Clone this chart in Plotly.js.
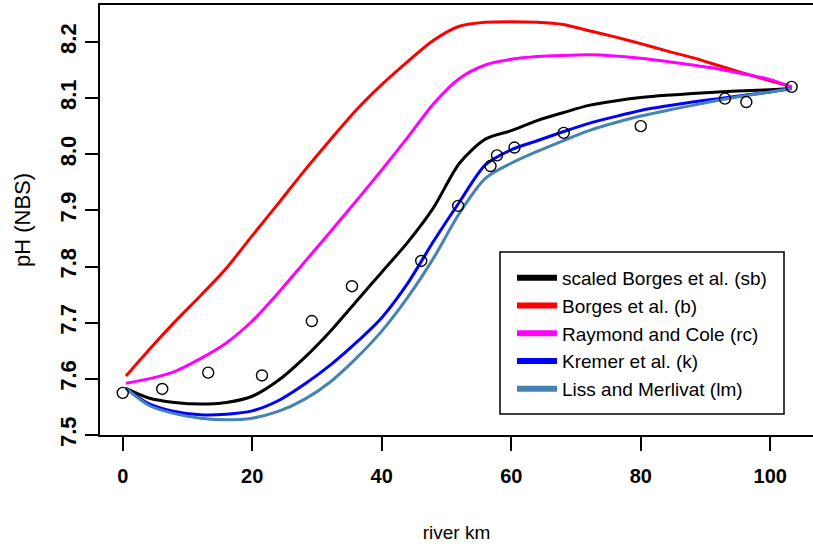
<!DOCTYPE html>
<html>
<head>
<meta charset="utf-8">
<script src="https://cdn.plot.ly/plotly-3.0.1.min.js"></script>
<style>
  html, body { margin: 0; padding: 0; background: #fff; }
  #chart { width: 813px; height: 547px; }
</style>
</head>
<body>
<div id="chart"></div>
<script>
// Modelled pH along the river (km from the upstream station)
const km = [0.5, 4, 8, 12, 16, 20, 24, 28, 32, 36, 40, 44, 48, 52, 56, 60,
            64, 68, 72, 76, 80, 84, 88, 92, 96, 100, 103.3];

// scaled Borges et al. (sb)
const phScaledBorges = [7.583, 7.566, 7.558, 7.555, 7.558, 7.569, 7.597, 7.637, 7.684,
                        7.737, 7.790, 7.843, 7.905, 7.984, 8.027, 8.042, 8.060, 8.074,
                        8.087, 8.095, 8.101, 8.105, 8.108, 8.111, 8.113, 8.115, 8.117];
// Borges et al. (b)
const phBorges = [7.605, 7.651, 7.701, 7.748, 7.797, 7.855, 7.912, 7.970, 8.025,
                  8.078, 8.124, 8.165, 8.203, 8.228, 8.235, 8.236, 8.235, 8.231,
                  8.220, 8.209, 8.197, 8.184, 8.172, 8.158, 8.144, 8.131, 8.120];
// Raymond and Cole (rc)
const phRaymondCole = [7.592, 7.600, 7.613, 7.636, 7.664, 7.703, 7.753, 7.807, 7.861,
                       7.916, 7.972, 8.030, 8.090, 8.135, 8.159, 8.169, 8.174, 8.176,
                       8.177, 8.175, 8.171, 8.165, 8.159, 8.152, 8.143, 8.133, 8.120];
// Kremer et al. (k)
const phKremer = [7.583, 7.556, 7.542, 7.536, 7.537, 7.543, 7.561, 7.590, 7.624,
                  7.664, 7.709, 7.770, 7.845, 7.915, 7.981, 8.008, 8.024, 8.040,
                  8.055, 8.067, 8.078, 8.086, 8.093, 8.099, 8.105, 8.111, 8.117];
// Liss and Merlivat (lm)
const phLissMerlivat = [7.583, 7.553, 7.538, 7.530, 7.527, 7.530, 7.542, 7.563, 7.594,
                        7.636, 7.685, 7.745, 7.815, 7.895, 7.957, 7.984, 8.005, 8.024,
                        8.042, 8.056, 8.068, 8.078, 8.087, 8.096, 8.104, 8.111, 8.117];

// Measured pH at the sampling stations
const obsKm = [0, 6.1, 13.2, 21.5, 29.2, 35.4, 46.1, 51.8, 56.8, 57.8, 60.5,
               68.1, 80.0, 93.0, 96.3, 103.3];
const obsPh = [7.575, 7.582, 7.611, 7.606, 7.703, 7.765, 7.810, 7.908, 7.979,
               7.998, 8.012, 8.038, 8.050, 8.099, 8.093, 8.120];

const seriesNames = ['scaled Borges et al. (sb)', 'Borges et al. (b)',
                     'Raymond and Cole (rc)', 'Kremer et al. (k)', 'Liss and Merlivat (lm)'];
const seriesValues = [phScaledBorges, phBorges, phRaymondCole, phKremer, phLissMerlivat];
const seriesColors = ['#000000', '#ff0000', '#ff00ff', '#0000ff', '#4682b4'];

const xTicks = [0, 20, 40, 60, 80, 100];
const yTicks = [7.5, 7.6, 7.7, 7.8, 7.9, 8.0, 8.1, 8.2];
const yTickText = ['7.5', '7.6', '7.7', '7.8', '7.9', '8.0', '8.1', '8.2'];

const FONT = '"Liberation Sans", Arial, Helvetica, sans-serif';

const traces = [];

// model curves
seriesValues.forEach((vals, i) => {
  traces.push({
    type: 'scatter', mode: 'lines', x: km, y: vals,
    line: { color: seriesColors[i], width: 3, shape: 'spline', smoothing: 0.8 },
    showlegend: false, hoverinfo: 'skip', name: seriesNames[i]
  });
});

// observations
traces.push({
  type: 'scatter', mode: 'markers', x: obsKm, y: obsPh,
  marker: { symbol: 'circle-open', size: 11, color: '#000', line: { width: 1.4, color: '#000' } },
  showlegend: false, name: 'observed'
});

// legend keys (thicker line samples)
seriesNames.forEach((name, i) => {
  traces.push({
    type: 'scatter', mode: 'lines', x: [null], y: [null], name: name,
    line: { color: seriesColors[i], width: 6 }, showlegend: true
  });
});

const L = 100, T = 5, W = 713, H = 430;
const px = (p) => (p - L) / W;
const py = (p) => (T + H - p) / H;

const layout = {
  width: 813, height: 547,
  margin: { l: L, r: 0, t: T, b: 547 - T - H, pad: 0 },
  paper_bgcolor: '#fff', plot_bgcolor: '#fff',
  font: { family: FONT, color: '#000' },
  showlegend: true,
  xaxis: {
    range: [-3.51, 106.6], tickvals: xTicks, ticktext: xTicks.map(String),
    showgrid: false, zeroline: false,
    showline: true, mirror: true, linecolor: '#000', linewidth: 2,
    ticks: 'outside', ticklen: 14, tickwidth: 2, tickcolor: '#000',
    ticklabelstandoff: 8,
    tickfont: { family: FONT, size: 20, weight: 'bold' },
    title: { text: 'river km', font: { family: FONT, size: 19 }, standoff: 40 }
  },
  yaxis: {
    range: [7.5, 8.2658], tickvals: yTicks, ticktext: yTickText,
    showgrid: false, zeroline: false,
    showline: true, mirror: true, linecolor: '#000', linewidth: 2,
    ticks: 'outside', ticklen: 13, tickwidth: 2, tickcolor: '#000',
    tickangle: -90,
    tickfont: { family: FONT, size: 22, weight: 'bold' },
    title: { text: 'pH (NBS)', font: { family: FONT, size: 22 }, standoff: 20 }
  },
  legend: {
    x: px(512), y: py(259), xanchor: 'left', yanchor: 'top',
    bgcolor: 'rgba(0,0,0,0)', borderwidth: 0,
    font: { family: FONT, size: 19, color: '#000' },
    itemwidth: 40, tracegroupgap: 0
  },
  shapes: [{
    type: 'rect', xref: 'paper', yref: 'paper',
    x0: px(500), x1: px(784), y0: py(414), y1: py(252),
    line: { color: '#000', width: 1.5 }, fillcolor: 'rgba(0,0,0,0)'
  }]
};

Plotly.newPlot('chart', traces, layout, { displayModeBar: false, staticPlot: true });
</script>
</body>
</html>
